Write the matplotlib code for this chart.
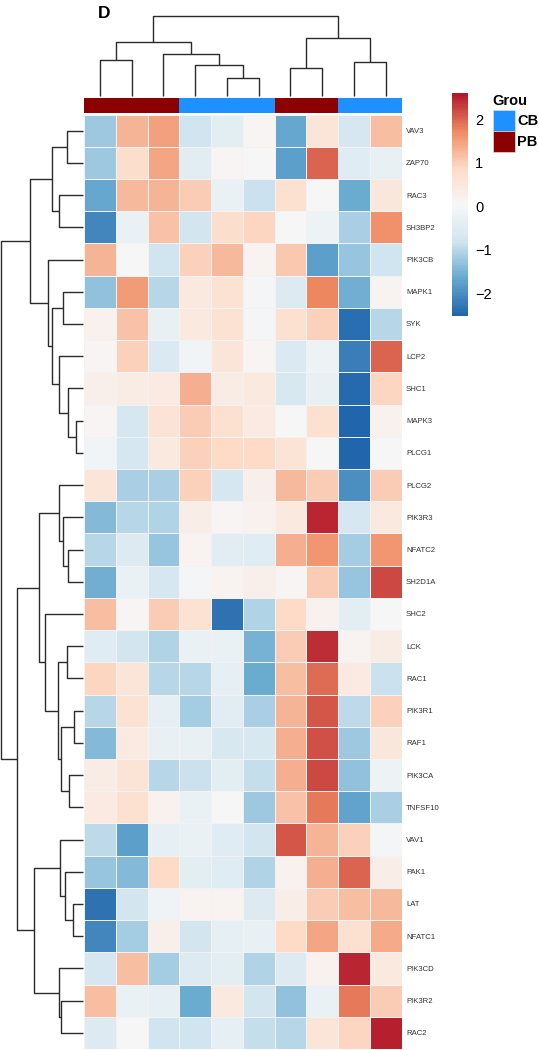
import numpy as np
import matplotlib
matplotlib.use("Agg")
import matplotlib.pyplot as plt
from matplotlib.colors import LinearSegmentedColormap, Normalize
from matplotlib.patches import Rectangle
import matplotlib.cm as cm

plt.rcParams['font.family'] = ['Liberation Sans', 'DejaVu Sans']

genes = ["VAV3", "ZAP70", "RAC3", "SH3BP2", "PIK3CB", "MAPK1", "SYK", "LCP2",
         "SHC1", "MAPK3", "PLCG1", "PLCG2", "PIK3R3", "NFATC2", "SH2D1A", "SHC2",
         "LCK", "RAC1", "PIK3R1", "RAF1", "PIK3CA", "TNFSF10", "VAV1", "PAK1",
         "LAT", "NFATC1", "PIK3CD", "PIK3R2", "RAC2"]
groups = ["PB", "PB", "PB", "CB", "CB", "CB", "PB", "PB", "CB", "CB"]
group_colors = {"CB": "#1E90FF", "PB": "#8B0000"}

# z-scores, rows in display order, columns in display order
values = [
    [-1.2, 1.3, 1.5, -0.8, -0.4, 0.1, -1.7, 0.6, -0.7, 1.2],
    [-1.2, 0.8, 1.45, -0.45, 0.1, 0.0, -1.8, 2.0, -0.5, -0.3],
    [-1.7, 1.25, 1.3, 1.05, -0.25, -0.85, 0.75, 0.0, -1.6, 0.55],
    [-2.1, -0.25, 1.15, -0.75, 0.8, 0.95, 0.0, -0.2, -1.1, 1.65],
    [1.3, 0.0, -0.8, 1.0, 1.25, 0.15, 1.1, -1.8, -1.25, -0.8],
    [-1.3, 1.55, -1.0, 0.45, 0.7, -0.05, -0.55, 1.75, -1.55, 0.15],
    [0.2, 1.15, -0.3, 0.5, 0.7, -0.05, 0.75, 1.0, -2.4, -1.0],
    [0.1, 1.0, -0.6, -0.1, 0.6, 0.1, -0.6, -0.2, -2.2, 2.0],
    [0.25, 0.35, 0.4, 1.35, 0.35, 0.5, -0.65, -0.3, -2.45, 0.95],
    [0.1, -0.7, 0.65, 1.05, 0.75, 0.4, 0.0, 0.75, -2.5, 0.2],
    [-0.1, -0.7, 0.5, 1.0, 0.9, 0.9, 0.65, 0.05, -2.5, 0.0],
    [0.6, -1.1, -1.1, 1.0, -0.7, 0.25, 1.25, 1.05, -2.0, 1.05],
    [-1.4, -1.0, -1.05, 0.3, 0.1, 0.2, 0.5, 2.45, -0.7, 0.5],
    [-1.0, -0.55, -1.25, 0.15, -0.45, -0.5, 1.35, 1.6, -1.15, 1.6],
    [-1.55, -0.25, -0.7, -0.05, 0.15, 0.25, 0.1, 1.05, -1.25, 2.2],
    [1.2, 0.1, 1.05, 0.7, -2.35, -1.05, 0.9, 0.2, -0.4, 0.0],
    [-0.5, -0.75, -1.05, -0.25, -0.25, -1.5, 1.05, 2.4, 0.15, 0.35],
    [0.95, 0.6, -1.0, -1.0, -0.35, -1.6, 1.2, 1.95, 0.4, -0.85],
    [-1.0, 0.7, -0.35, -1.15, -0.45, -1.1, 1.3, 2.1, -0.95, 1.0],
    [-1.4, 0.4, -0.3, -0.3, -0.65, -0.65, 1.35, 2.15, -1.2, 0.55],
    [0.35, 0.65, -1.0, -0.85, -0.4, -0.9, 1.35, 2.2, -1.3, -0.2],
    [0.4, 0.75, 0.2, -0.25, 0.0, -1.2, 1.15, 1.85, -1.75, -1.1],
    [-0.95, -1.8, -0.35, -0.25, -0.5, -0.75, 2.1, 1.3, 1.0, -0.05],
    [-1.25, -1.4, 0.9, -0.4, -0.5, -1.05, 0.2, 1.35, 2.0, 0.3],
    [-2.35, -0.75, -0.15, 0.15, 0.15, -0.55, 0.3, 1.05, 1.2, 1.25],
    [-2.1, -1.15, 0.25, -0.75, -0.35, -0.3, 0.9, 1.45, 0.75, 1.4],
    [-0.7, 1.2, -1.15, -0.55, -0.4, -1.05, -0.55, 0.2, 2.45, 0.45],
    [1.2, -0.25, -0.35, -1.6, 0.45, -0.75, -1.3, -0.25, 1.85, 1.05],
    [-0.55, 0.0, -0.8, -0.8, -0.35, -0.9, -1.0, 0.6, 0.95, 2.5],
]

# merges as (left, right, height); leaves numbered in display order
col_links = [(0, 1, 36), (4, 5, 18), (3, 11, 31.4), (2, 12, 42), (10, 13, 54),
             (6, 7, 28), (8, 9, 34), (15, 16, 58), (14, 17, 80.5)]
row_links = [(0, 1, 16.6), (2, 3, 24.3), (29, 30, 31.6), (9, 10, 7.3), (8, 32, 15),
             (7, 33, 24.3), (5, 6, 20), (35, 34, 31), (4, 36, 35.6), (31, 37, 53.3),
             (13, 14, 15), (12, 39, 20), (11, 40, 24), (16, 17, 16.6), (18, 19, 9.3),
             (20, 21, 14), (43, 44, 22.6), (42, 45, 25), (15, 46, 38.6), (41, 47, 44),
             (24, 25, 10.6), (23, 49, 18.3), (22, 50, 23.3), (27, 28, 22.6),
             (26, 52, 24.3), (51, 53, 49), (48, 54, 66.6), (38, 55, 82)]

colors7 = ["#2166AC", "#67A9CF", "#D1E5F0", "#F7F7F7", "#FDDBC7", "#EF8A62", "#B2182B"]
cmap = LinearSegmentedColormap.from_list("rdbu7", colors7, N=100)
vmin, vmax = -2.52, 2.6

W, H = 539, 1050
fig = plt.figure(figsize=(W / 100, H / 100), dpi=100)


def px_axes(x0, y0, x1, y1):
    return fig.add_axes([x0 / W, 1 - y1 / H, (x1 - x0) / W, (y1 - y0) / H])


def dendro_segments(links, n):
    pos = {i: i + 0.5 for i in range(n)}
    hgt = {i: 0.0 for i in range(n)}
    segs = []
    for k, (a, b, h) in enumerate(links):
        segs.append(([pos[a], pos[a], pos[b], pos[b]], [hgt[a], h, h, hgt[b]]))
        pos[n + k] = (pos[a] + pos[b]) / 2
        hgt[n + k] = h
    return segs


data = np.array(values)
nrow, ncol = data.shape

# heatmap
ax = px_axes(84, 114.5, 401.5, 1049)
ax.pcolormesh(data, cmap=cmap, vmin=vmin, vmax=vmax, edgecolors="#f2f2f2", linewidth=0.4)
ax.set_xlim(0, ncol)
ax.set_ylim(nrow, 0)
ax.set_xticks([])
ax.yaxis.tick_right()
ax.set_yticks(np.arange(nrow) + 0.5)
ax.set_yticklabels(genes, fontsize=5.6, color="#333333")
ax.tick_params(axis="y", length=0, pad=3.3)
for s in ax.spines.values():
    s.set_visible(False)

# column annotation
ax_ann = px_axes(84, 97.5, 401.5, 112.5)
for i, g in enumerate(groups):
    ax_ann.add_patch(Rectangle((i, 0), 1, 1, facecolor=group_colors[g], edgecolor="none"))
ax_ann.set_xlim(0, ncol)
ax_ann.set_ylim(0, 1)
ax_ann.axis("off")

# column dendrogram
ax_cd = px_axes(84, 15.5, 401.5, 96)
for xs, ys in dendro_segments(col_links, ncol):
    ax_cd.plot(xs, ys, color="#2b2b2b", lw=1.0, clip_on=False, solid_capstyle="butt")
ax_cd.set_xlim(0, ncol)
ax_cd.set_ylim(0, 80.5)
ax_cd.axis("off")

# row dendrogram
ax_rd = px_axes(1.3, 114.5, 83.3, 1049)
for xs, ys in dendro_segments(row_links, nrow):
    ax_rd.plot(ys, xs, color="#2b2b2b", lw=1.0, clip_on=False, solid_capstyle="butt")
ax_rd.set_xlim(82, 0)
ax_rd.set_ylim(nrow, 0)
ax_rd.axis("off")

# colorbar
ax_cb = px_axes(452, 93.3, 468, 316)
cb = fig.colorbar(cm.ScalarMappable(norm=Normalize(vmin, vmax), cmap=cmap), cax=ax_cb)
cb.set_ticks([-2, -1, 0, 1, 2])
cb.outline.set_visible(False)
ax_cb.tick_params(length=0, pad=5, labelsize=10.5)

# group legend
ax_lg = px_axes(480, 80, 539, 160)
ax_lg.set_xlim(480, 539)
ax_lg.set_ylim(160, 80)
ax_lg.axis("off")
ax_lg.text(492.5, 105, "Grou", fontsize=10.5, fontweight="bold", va="baseline", ha="left")
for k, g in enumerate(["CB", "PB"]):
    y0 = 110 + k * 20.8
    ax_lg.add_patch(Rectangle((492.7, y0), 22.3, 20.8, facecolor=group_colors[g],
                              edgecolor="#dddddd", lw=0.5))
    ax_lg.text(517, y0 + 10.8, g, fontsize=10.5, fontweight="bold", va="center", ha="left")

fig.text(98 / W, 1 - 17.5 / H, "D", fontsize=12.5, fontweight="bold", va="baseline", ha="left")

fig.savefig("out.png", dpi=100)
